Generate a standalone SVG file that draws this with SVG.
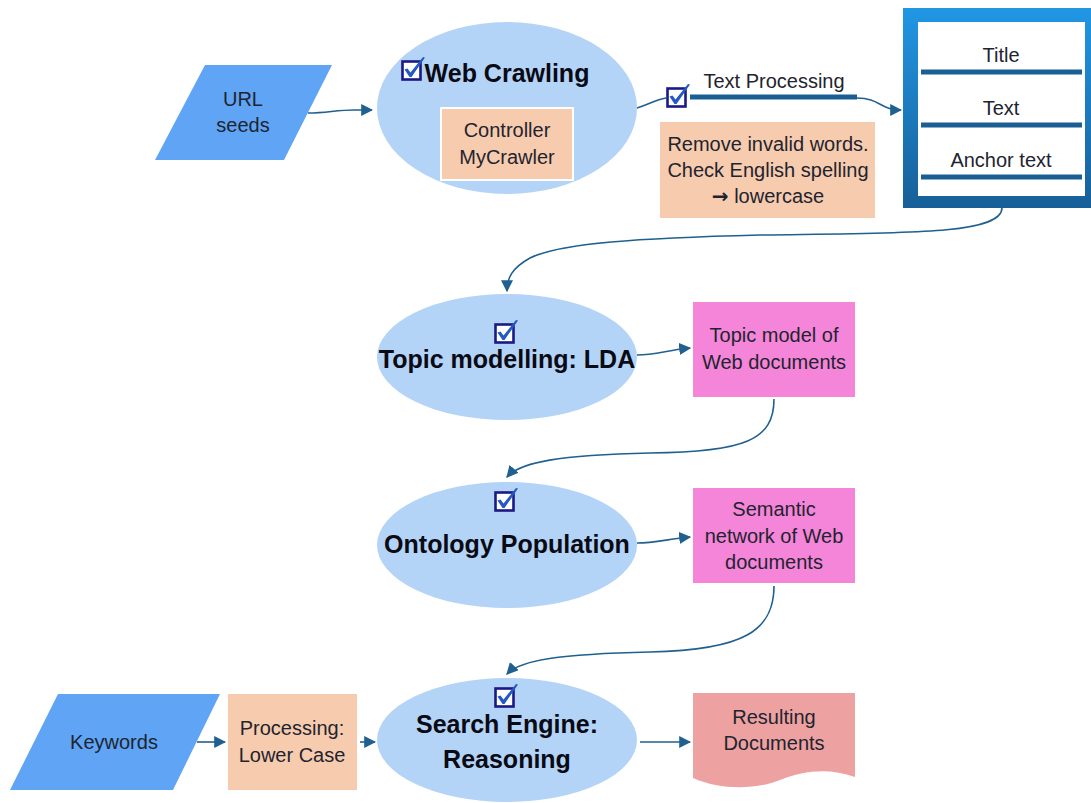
<svg xmlns="http://www.w3.org/2000/svg" width="1091" height="803" viewBox="0 0 1091 803">
<defs>
<style>
.ell{fill:#b3d3f7}
.para{fill:#60a5f5}
.orange{fill:#f7cbad}
.pink{fill:#f585d8}
.res{fill:#eda1a0}
.t{font-family:"Liberation Sans",Arial,sans-serif;font-size:20px;fill:#1e2430;text-anchor:middle}
.big{font-family:"Liberation Sans",Arial,sans-serif;font-size:25px;font-weight:bold;fill:#0a0a14;text-anchor:middle}
.conn{fill:none;stroke:#1f6090;stroke-width:1.6}
.bar{stroke:#195f94;stroke-width:5}
</style>
<marker id="ah2" viewBox="0 0 10 10" refX="9" refY="5" markerWidth="12" markerHeight="12" markerUnits="userSpaceOnUse" orient="auto">
<path d="M0,0 L10,5 L0,10 Z" fill="#1f6090"/>
</marker>
<g id="chk">
<rect x="1.5" y="4.5" width="18" height="18" fill="#ffffff" stroke="#1a1a86" stroke-width="2.6"/>
<path d="M3.5,12.5 L6.5,11.5 L9.5,15.5 L22,0 L24,0.5 L10.5,20 L8.5,20 Z" fill="#2458c8"/>
</g>
<linearGradient id="docg" x1="0" y1="0" x2="0" y2="1">
<stop offset="0" stop-color="#2197e4"/>
<stop offset="1" stop-color="#175f98"/>
</linearGradient>
</defs>
<rect width="1091" height="803" fill="#ffffff"/>

<g id="connectors">
<path class="conn" d="M308,113 C328,113 335,110 355,110 L372,110" marker-end="url(#ah2)"/>
<path class="conn" d="M637,108 C650,104 655,100 666,98"/>
<line class="bar" x1="690" y1="97" x2="857" y2="97"/>
<path class="conn" d="M857,98 C880,98 880,110 901,110" marker-end="url(#ah2)"/>
<path class="conn" d="M1002,208 C1002,235 900,233 760,235 C640,238 560,243 530,258 C512,268 507,278 507,291" marker-end="url(#ah2)"/>
<path class="conn" d="M637,355 C655,355 668,350 690,348" marker-end="url(#ah2)"/>
<path class="conn" d="M774,399 C774,440 745,452 650,453 C560,455 520,462 507,477" marker-end="url(#ah2)"/>
<path class="conn" d="M637,543 C655,543 668,539 690,537" marker-end="url(#ah2)"/>
<path class="conn" d="M774,586 C774,630 745,650 650,652 C560,654 520,660 507,674" marker-end="url(#ah2)"/>
<path class="conn" d="M197,742 L225,742" marker-end="url(#ah2)"/>
<path class="conn" d="M360,742 L375,742" marker-end="url(#ah2)"/>
<path class="conn" d="M640,742 L690,742" marker-end="url(#ah2)"/>
</g>

<g id="url-seeds">
<polygon class="para" points="205,65 332,65 284,160 155,160"/>
<text class="t" x="243" y="106">URL</text>
<text class="t" x="243" y="132">seeds</text>
</g>

<g id="web-crawling">
<ellipse class="ell" cx="507" cy="108" rx="130" ry="86"/>
<use href="#chk" x="401" y="57"/>
<text class="big" x="507" y="82" font-size="26">Web Crawling</text>
<rect class="orange" x="441" y="108" width="132" height="72" stroke="#ffffff" stroke-width="2"/>
<text class="t" x="507" y="137">Controller</text>
<text class="t" x="507" y="164">MyCrawler</text>
</g>

<g id="text-processing">
<use href="#chk" x="666" y="84"/>
<text class="t" x="774" y="88">Text Processing</text>
<rect class="orange" x="660" y="122" width="215" height="96"/>
<text class="t" x="768" y="151">Remove invalid words.</text>
<text class="t" x="768" y="177">Check English spelling</text>
<text class="t" x="768" y="203"><tspan font-weight="bold" font-family="DejaVu Sans, sans-serif">→</tspan> lowercase</text>
</g>

<g id="document">
<rect x="903" y="8" width="192" height="200" fill="url(#docg)"/>
<rect x="918" y="22" width="167" height="174" fill="#ffffff"/>
<text class="t" x="1001" y="62">Title</text>
<line class="bar" x1="921" y1="72" x2="1082" y2="72"/>
<text class="t" x="1001" y="115">Text</text>
<line class="bar" x1="921" y1="125" x2="1082" y2="125"/>
<text class="t" x="1001" y="167">Anchor text</text>
<line class="bar" x1="921" y1="177" x2="1082" y2="177"/>
</g>

<g id="topic-modelling">
<ellipse class="ell" cx="507" cy="357" rx="130" ry="63"/>
<use href="#chk" x="494" y="320"/>
<text class="big" x="507" y="368">Topic modelling: LDA</text>
</g>

<g id="topic-model-docs">
<rect class="pink" x="693" y="302" width="162" height="95"/>
<text class="t" x="774" y="342">Topic model of</text>
<text class="t" x="774" y="369">Web documents</text>
</g>

<g id="ontology">
<ellipse class="ell" cx="507" cy="545" rx="130" ry="63"/>
<use href="#chk" x="494" y="488"/>
<text class="big" x="507" y="553">Ontology Population</text>
</g>

<g id="semantic-network">
<rect class="pink" x="693" y="488" width="162" height="95"/>
<text class="t" x="774" y="516">Semantic</text>
<text class="t" x="774" y="543">network of Web</text>
<text class="t" x="774" y="569">documents</text>
</g>

<g id="keywords">
<polygon class="para" points="58,694 220,694 173,790 10,790"/>
<text class="t" x="114" y="749">Keywords</text>
</g>

<g id="processing">
<rect class="orange" x="228" y="694" width="129" height="96"/>
<text class="t" x="292" y="735">Processing:</text>
<text class="t" x="292" y="762">Lower Case</text>
</g>

<g id="search-engine">
<ellipse class="ell" cx="507" cy="740" rx="130" ry="62"/>
<use href="#chk" x="494" y="684"/>
<text class="big" x="507" y="733">Search Engine:</text>
<text class="big" x="507" y="768">Reasoning</text>
</g>

<g id="resulting">
<path class="res" d="M693,693 H855 V777 C830,768 805,770 780,780 C755,790 720,790 693,778 Z"/>
<text class="t" x="774" y="724">Resulting</text>
<text class="t" x="774" y="750">Documents</text>
</g>
</svg>
